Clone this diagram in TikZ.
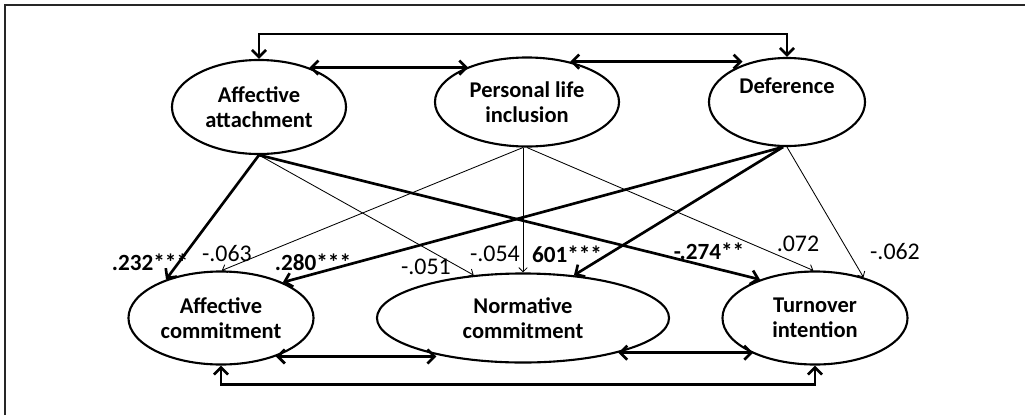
\documentclass[tikz,border=0pt]{standalone}
\usepackage{fontspec}
\setmainfont{Carlito}
\usepackage{tikz}
\usetikzlibrary{arrows.meta, shapes.geometric}

\tikzset{
	latent/.style={ellipse, draw=black, line width=1.5pt, inner sep=0pt, align=center,
		font=\fontsize{16}{18}\selectfont\bfseries},
	strong/.style={line width=1.9pt, -{Straight Barb[length=5pt,width=10pt]}},
	weak/.style={line width=0.6pt, -{Straight Barb[length=3pt,width=6pt]}},
	cov/.style={line width=1.9pt, {Straight Barb[length=5pt,width=10pt]}-{Straight Barb[length=5pt,width=10pt]}},
	coef/.style={font=\fontsize{17}{19}\selectfont},
	sig/.style={font=\fontsize{16.5}{19}\selectfont\bfseries}
}

\begin{document}
\begin{tikzpicture}[x=0.025cm, y=-0.025cm]
	\useasboundingbox (0,0) rectangle (1025,415);
	\draw[line width=1pt, black!85] (5,415) -- (5,5) -- (1025,5);	%frame, left and top only
	
	%predictors
	\node[latent, minimum width=4.35cm, minimum height=2.35cm] (attach) at (259,107) {Affective\\attachment};
	\node[latent, minimum width=4.6cm, minimum height=2.225cm] (incl) at (527,102) {Personal life\\inclusion};
	\node[latent, minimum width=3.9cm, minimum height=2.2cm] (defer) at (787,102) {Deference\\\strut};
	
	%outcomes
	\node[latent, minimum width=4.625cm, minimum height=2.325cm] (acom) at (221,318) {Affective\\commitment};
	\node[latent, minimum width=7.3cm, minimum height=2.225cm] (ncom) at (523,318) {Normative\\commitment};
	\node[latent, minimum width=4.625cm, minimum height=2.325cm] (turn) at (815,318) {Turnover\\intention};
	
	%covariances
	\draw[cov] (attach.north) -- ++(0,-25) -| (defer.north);
	\draw[cov] (attach.38) -- (attach.38 -| incl.149);
	\draw[cov] (incl.43) -- (incl.43 -| defer.140);
	\draw[cov] (acom.-35) -- (acom.-35 -| ncom.203);
	\draw[cov] (ncom.-20) -- (ncom.-20 -| turn.210);
	\draw[cov] (acom.south) -- ++(0,19) -| (turn.south);
	
	%paths
	\draw[strong] (attach.south) -- (acom.145);
	\draw[weak]   (attach.south) -- (ncom.139);
	\draw[strong] (attach.south) -- (turn.145);
	%
	\draw[weak]   (incl.265) -- (acom.89);
	\draw[weak]   (incl.south -| ncom.north) -- (ncom.north);
	\draw[weak]   (incl.south) -- (turn.92);
	%
	\draw[strong] (defer.265) -- (acom.30);
	\draw[strong] (defer.265) -- (ncom.40);
	\draw[weak]   (defer.south) -- (turn.40);
	
	%labels
	\node[sig]  (c1) at (150,262) {.232***};
	\node[coef] (c2) at (227,254) {-.063};
	\node[sig]  (c3) at (313,262) {.280***};
	\node[coef] (c4) at (426,267) {-.051};
	\node[coef] (c5) at (495,254) {-.054};
	\node[sig]  (c6) at (567,254) {601***};
	\node[sig]  (c7) at (709,251) {-.274**};
	\node[coef] (c8) at (798,244) {.072};
	\node[coef] (c9) at (895,252) {-.062};
\end{tikzpicture}
\end{document}
